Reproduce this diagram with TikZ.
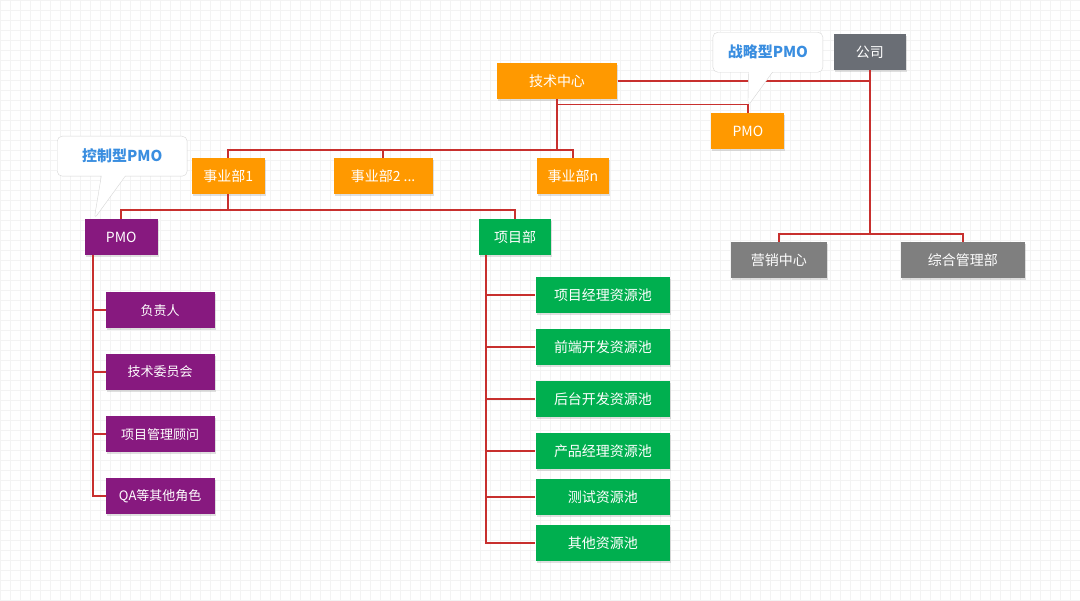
\documentclass[tikz,border=0pt]{standalone}
\usepackage{fontspec}
\setmainfont{Noto Sans CJK SC}
\usetikzlibrary{positioning,shapes.callouts,shadows}
\definecolor{bizorange}{HTML}{FF9900}
\definecolor{bizpurple}{HTML}{87197F}
\definecolor{bizgreen}{HTML}{00AF4F}
\definecolor{bizdark}{HTML}{6A6E75}
\definecolor{bizgrey}{HTML}{7F7F7F}
\definecolor{linkred}{HTML}{C8302E}
\definecolor{tipblue}{HTML}{3A8EE0}
\definecolor{tipgrey}{HTML}{D6D6D6}
\definecolor{gridgrey}{HTML}{F3F3F3}

\begin{document}
\begin{tikzpicture}[x=1pt, y=-1pt, node distance=52pt, on grid,
    box/.style={rectangle, minimum height=36pt, inner sep=2pt, text=white,
      font=\fontsize{14pt}{16pt}\selectfont,
      drop shadow={opacity=0.25, shadow xshift=1pt, shadow yshift=-1.5pt}},
    obox/.style={box, fill=bizorange},
    pbox/.style={box, fill=bizpurple},
    gbox/.style={box, fill=bizgreen},
    darkbox/.style={box, fill=bizdark},
    greybox/.style={box, fill=bizgrey},
    role/.style={minimum width=109pt, font=\fontsize{13pt}{15pt}\selectfont},
    pool/.style={minimum width=135pt},
    link/.style={draw=linkred, line width=1.5pt},
    tip/.style={rectangle callout, rounded corners=5pt, draw=tipgrey, fill=white,
      text=tipblue, font=\bfseries\fontsize{15pt}{18pt}\selectfont,
      minimum height=40pt, callout pointer width=24pt},
    gridline/.style={draw=gridgrey, line width=0.5pt}]
   \fill[white] (0,0) rectangle (1080,600);
   \draw[gridline] (0,0) grid[step=10pt] (1080,600);
   \useasboundingbox (0,0) rectangle (1080,600);

   % top level
   \node[darkbox, minimum width=72pt] (company) at (870,52) {公司};
   \node[obox, minimum width=121pt] (tech) at (557,81) {技术中心};
   \node[obox, minimum width=73pt] (pmo_s) at (748,131) {PMO};
   \node[obox, minimum width=73pt] (bu_1) at (228,176) {事业部1};
   \node[obox, minimum width=99pt] (bu_2) at (383,176) {事业部2 ...};
   \node[obox, minimum width=73pt] (bu_n) at (573,176) {事业部n};
   \node[pbox, minimum width=73pt] (pmo_c) at (121,237) {PMO};
   \node[gbox, minimum width=72pt] (proj) at (515,237) {项目部};
   \node[greybox, minimum width=96pt] (sales) at (779,260) {营销中心};
   \node[greybox, minimum width=124pt] (admin) at (963,260) {综合管理部};

   % PMO roles
   \node[pbox, role] (role_1) at (160,310) {负责人};
   \node[pbox, role] (role_2) [below=62pt of role_1] {技术委员会};
   \node[pbox, role] (role_3) [below=62pt of role_2] {项目管理顾问};
   \node[pbox, role] (role_4) [below=62pt of role_3] {QA等其他角色};

   % resource pools
   \node[gbox, pool] (pool_1) at (603,295) {项目经理资源池};
   \node[gbox, pool] (pool_2) [below=of pool_1] {前端开发资源池};
   \node[gbox, pool] (pool_3) [below=of pool_2] {后台开发资源池};
   \node[gbox, pool] (pool_4) [below=of pool_3] {产品经理资源池};
   \node[gbox, pool] (pool_5) [below=46pt of pool_4] {测试资源池};
   \node[gbox, pool] (pool_6) [below=46pt of pool_5] {其他资源池};

   \coordinate (bus_t) at (557,150);
   \coordinate (bus_b) at (228,210);
   \coordinate (bus_c) at (870,234);

   \draw[link] (tech.east) -| (company.south);
   \draw[link] (tech.south) -- ++(0,5) -| (pmo_s.north);
   \foreach \b in {bu_1,bu_2,bu_n}
     \draw[link] (tech.south) -- (bus_t) -| (\b.north);
   \foreach \b in {pmo_c,proj}
     \draw[link] (bu_1.south) -- (bus_b) -| (\b.north);
   \foreach \b in {sales,admin}
     \draw[link] (company.south) -- (bus_c) -| (\b.north);
   \foreach \r in {role_1,role_2,role_3,role_4}
     \draw[link] ([xshift=-28pt]pmo_c.south) |- (\r.west);
   \foreach \p in {pool_1,pool_2,pool_3,pool_4,pool_5,pool_6}
     \draw[link] ([xshift=-29pt]proj.south) |- (\p.west);

   % callouts
   \node[tip, minimum width=110pt, callout absolute pointer={([yshift=7pt]pmo_s.north)}]
     (tip_s) at (768,52) {战略型PMO};
   \node[tip, minimum width=130pt, callout absolute pointer={([xshift=-27pt]pmo_c.north)}]
     (tip_c) at (122,156) {控制型PMO};
\end{tikzpicture}
\end{document}
